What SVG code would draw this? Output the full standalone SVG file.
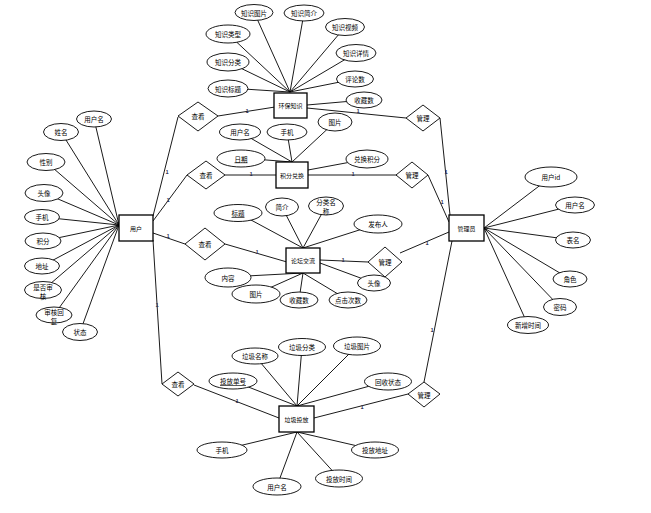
<svg xmlns="http://www.w3.org/2000/svg" width="651" height="513" viewBox="0 0 651 513">
<style>
text{font-family:"Noto Sans CJK SC","Noto Sans",sans-serif;font-size:6.5px;fill:#000;text-anchor:middle;dominant-baseline:central}
.ent rect{fill:#fff;stroke:#000;stroke-width:1.3}
.ent text{font-size:6px}
.att ellipse{fill:#fff;stroke:#000;stroke-width:0.9}
.rel polygon{fill:#fff;stroke:#000;stroke-width:0.9}
#connectors line{stroke:#000;stroke-width:0.9}
.card{font-size:5.5px;font-weight:bold;fill:#335}
.u{text-decoration:underline}
</style>
<rect width="651" height="513" fill="#fff"/>
<g id="connectors">
<!-- user attributes -->
<line x1="94" y1="119" x2="119" y2="225"/>
<line x1="61" y1="132" x2="119" y2="225"/>
<line x1="46" y1="162" x2="119" y2="225"/>
<line x1="44" y1="193" x2="119" y2="225"/>
<line x1="42" y1="217" x2="119" y2="225"/>
<line x1="43" y1="241" x2="119" y2="225"/>
<line x1="42" y1="266" x2="119" y2="225"/>
<line x1="43" y1="290" x2="119" y2="225"/>
<line x1="54" y1="315" x2="119" y2="225"/>
<line x1="80" y1="332" x2="119" y2="225"/>
<!-- admin attributes -->
<line x1="551" y1="177" x2="484" y2="228"/>
<line x1="575" y1="205" x2="484" y2="228"/>
<line x1="573" y1="240" x2="484" y2="228"/>
<line x1="570" y1="279" x2="484" y2="228"/>
<line x1="560" y1="307" x2="484" y2="228"/>
<line x1="528" y1="325" x2="484" y2="228"/>
<!-- knowledge attributes -->
<line x1="254" y1="12" x2="290" y2="92"/>
<line x1="304" y1="13" x2="290" y2="92"/>
<line x1="345" y1="27" x2="290" y2="92"/>
<line x1="356" y1="53" x2="290" y2="92"/>
<line x1="355" y1="79" x2="290" y2="92"/>
<line x1="228" y1="34" x2="290" y2="92"/>
<line x1="228" y1="62" x2="290" y2="92"/>
<line x1="228" y1="88" x2="290" y2="92"/>
<line x1="364" y1="100" x2="307" y2="105"/>
<!-- points exchange attributes -->
<line x1="240" y1="132" x2="292" y2="162"/>
<line x1="287" y1="132" x2="292" y2="162"/>
<line x1="335" y1="122" x2="292" y2="162"/>
<line x1="241" y1="158" x2="292" y2="162"/>
<line x1="367" y1="159" x2="308" y2="170"/>
<!-- forum attributes -->
<line x1="238" y1="213" x2="303" y2="248"/>
<line x1="282" y1="207" x2="303" y2="248"/>
<line x1="326" y1="206" x2="303" y2="248"/>
<line x1="378" y1="224" x2="303" y2="248"/>
<line x1="228" y1="277" x2="303" y2="273"/>
<line x1="256" y1="294" x2="303" y2="273"/>
<line x1="299" y1="300" x2="303" y2="273"/>
<line x1="348" y1="300" x2="303" y2="273"/>
<line x1="374" y1="283" x2="320" y2="263"/>
<!-- garbage attributes -->
<line x1="255" y1="356" x2="297" y2="406"/>
<line x1="302" y1="347" x2="297" y2="406"/>
<line x1="357" y1="346" x2="297" y2="406"/>
<line x1="233" y1="381" x2="297" y2="406"/>
<line x1="388" y1="381" x2="297" y2="406"/>
<line x1="222" y1="450" x2="297" y2="432"/>
<line x1="277" y1="486" x2="297" y2="432"/>
<line x1="339" y1="478" x2="297" y2="432"/>
<line x1="375" y1="450" x2="297" y2="432"/>
<!-- relationships -->
<line x1="153" y1="216" x2="178" y2="117"/>
<line x1="218" y1="116" x2="275" y2="107"/>
<line x1="307" y1="108" x2="406" y2="118"/>
<line x1="440" y1="118" x2="450" y2="215"/>
<line x1="153" y1="221" x2="187" y2="175"/>
<line x1="225" y1="175" x2="276" y2="175"/>
<line x1="308" y1="175" x2="397" y2="175"/>
<line x1="428" y1="175" x2="449" y2="222"/>
<line x1="153" y1="233" x2="185" y2="244"/>
<line x1="225" y1="244" x2="287" y2="262"/>
<line x1="320" y1="260" x2="368" y2="262"/>
<line x1="400" y1="253" x2="449" y2="232"/>
<line x1="153" y1="240" x2="162" y2="384"/>
<line x1="194" y1="385" x2="279" y2="418"/>
<line x1="314" y1="418" x2="408" y2="394"/>
<line x1="424" y1="382" x2="452" y2="241"/>
</g>
<g class="card">
<text class="card" x="167" y="172">1</text>
<text class="card" x="168" y="200">1</text>
<text class="card" x="168" y="236">1</text>
<text class="card" x="157" y="305">1</text>
<text class="card" x="247" y="111">1</text>
<text class="card" x="358" y="111">1</text>
<text class="card" x="251" y="174">1</text>
<text class="card" x="353" y="174">1</text>
<text class="card" x="257" y="252">1</text>
<text class="card" x="343" y="260">1</text>
<text class="card" x="237" y="401">1</text>
<text class="card" x="362" y="407">1</text>
<text class="card" x="446" y="172">1</text>
<text class="card" x="442" y="202">1</text>
<text class="card" x="427" y="243">1</text>
<text class="card" x="432" y="330">1</text>
</g>
<!-- entities -->
<g id="user" class="ent"><rect x="119" y="215" width="34" height="26"/><text x="136" y="228">用户</text></g>
<g id="admin" class="ent"><rect x="449" y="215" width="35" height="26"/><text x="466.5" y="228">管理员</text></g>
<g id="knowledge" class="ent"><rect x="274" y="93" width="33" height="25"/><text x="290.5" y="105.5">环保知识</text></g>
<g id="exchange" class="ent"><rect x="276" y="162" width="32" height="26"/><text x="292" y="175">积分兑换</text></g>
<g id="forum" class="ent"><rect x="286" y="248" width="34" height="25"/><text x="303" y="260.5">论坛交流</text></g>
<g id="garbage" class="ent"><rect x="279" y="406" width="35" height="26"/><text x="296.5" y="419">垃圾投放</text></g>
<!-- relationships -->
<g id="rel-view-knowledge" class="rel"><polygon points="198,102 218,116 198,131 178,116"/><text x="198" y="116">查看</text></g>
<g id="rel-manage-knowledge" class="rel"><polygon points="423,105 440,118 423,131 406,118"/><text x="423" y="118">管理</text></g>
<g id="rel-view-exchange" class="rel"><polygon points="206,161 225,175 206,189 187,175"/><text x="206" y="175">查看</text></g>
<g id="rel-manage-exchange" class="rel"><polygon points="412,162 428,175 412,188 396,175"/><text x="412" y="175">管理</text></g>
<g id="rel-view-forum" class="rel"><polygon points="205,228 225,244 205,260 185,244"/><text x="205" y="244">查看</text></g>
<g id="rel-manage-forum" class="rel"><polygon points="385,247 402,262 385,277 368,262"/><text x="385" y="262">管理</text></g>
<g id="rel-view-garbage" class="rel"><polygon points="178,372 194,384 178,396 162,384"/><text x="178" y="384">查看</text></g>
<g id="rel-manage-garbage" class="rel"><polygon points="424,382 440,394 424,407 408,394"/><text x="424" y="394.5">管理</text></g>
<!-- user attributes -->
<g id="u-username" class="att"><ellipse cx="94" cy="119" rx="17.5" ry="8"/><text x="94" y="119">用户名</text></g>
<g id="u-name" class="att"><ellipse cx="61" cy="132" rx="17.5" ry="8.5"/><text x="61" y="132">姓名</text></g>
<g id="u-gender" class="att"><ellipse cx="46" cy="162" rx="19" ry="8.5"/><text x="46" y="162">性别</text></g>
<g id="u-avatar" class="att"><ellipse cx="44" cy="193" rx="19" ry="8.5"/><text x="44" y="193">头像</text></g>
<g id="u-phone" class="att"><ellipse cx="42" cy="217" rx="17.5" ry="7.5"/><text x="42" y="217">手机</text></g>
<g id="u-points" class="att"><ellipse cx="43" cy="241" rx="18" ry="8"/><text x="43" y="241">积分</text></g>
<g id="u-addr" class="att"><ellipse cx="42" cy="266" rx="17.5" ry="8"/><text x="42" y="266">地址</text></g>
<g id="u-audit" class="att"><ellipse cx="43" cy="290" rx="18.5" ry="8.5"/><text x="43" y="286.5">是否审</text><text x="43" y="295.5">核</text></g>
<g id="u-reply" class="att"><ellipse cx="54" cy="315" rx="18" ry="8"/><text x="54" y="311.5">审核回</text><text x="54" y="320.5">复</text></g>
<g id="u-status" class="att"><ellipse cx="80" cy="332" rx="17.5" ry="8.5"/><text x="80" y="332">状态</text></g>
<!-- admin attributes -->
<g id="a-id" class="att"><ellipse cx="551" cy="177" rx="26" ry="10"/><text x="551" y="177">用户id</text></g>
<g id="a-username" class="att"><ellipse cx="575" cy="205" rx="19.5" ry="8"/><text x="575" y="205">用户名</text></g>
<g id="a-table" class="att"><ellipse cx="573" cy="240" rx="17.5" ry="8"/><text x="573" y="240">表名</text></g>
<g id="a-role" class="att"><ellipse cx="570" cy="279" rx="17" ry="8"/><text x="570" y="279">角色</text></g>
<g id="a-pwd" class="att"><ellipse cx="560" cy="307" rx="16.5" ry="8.5"/><text x="560" y="307">密码</text></g>
<g id="a-time" class="att"><ellipse cx="528" cy="325" rx="20.5" ry="8.5"/><text x="528" y="325">新增时间</text></g>
<!-- knowledge attributes -->
<g id="k-img" class="att"><ellipse cx="254" cy="12.5" rx="19" ry="8"/><text x="254" y="12.5">知识图片</text></g>
<g id="k-intro" class="att"><ellipse cx="304" cy="13" rx="20" ry="8"/><text x="304" y="13">知识简介</text></g>
<g id="k-video" class="att"><ellipse cx="345" cy="27" rx="19.5" ry="8.5"/><text x="345" y="27">知识视频</text></g>
<g id="k-detail" class="att"><ellipse cx="356" cy="53" rx="20" ry="8.5"/><text x="356" y="53">知识详情</text></g>
<g id="k-comments" class="att"><ellipse cx="355" cy="79" rx="18.5" ry="8"/><text x="355" y="79">评论数</text></g>
<g id="k-favs" class="att"><ellipse cx="364" cy="100" rx="18" ry="8"/><text x="364" y="100">收藏数</text></g>
<g id="k-type" class="att"><ellipse cx="228" cy="34" rx="22" ry="9"/><text x="228" y="34">知识类型</text></g>
<g id="k-cat" class="att"><ellipse cx="228" cy="62" rx="21" ry="9"/><text x="228" y="62">知识分类</text></g>
<g id="k-title" class="att"><ellipse cx="228" cy="88.5" rx="20" ry="8.5"/><text x="228" y="88.5">知识标题</text></g>
<!-- exchange attributes -->
<g id="e-username" class="att"><ellipse cx="240" cy="132" rx="20.5" ry="8"/><text x="240" y="132">用户名</text></g>
<g id="e-phone" class="att"><ellipse cx="287" cy="132" rx="20" ry="8"/><text x="287" y="132">手机</text></g>
<g id="e-img" class="att"><ellipse cx="335" cy="122" rx="17" ry="9"/><text x="335" y="122">图片</text></g>
<g id="e-date" class="att"><ellipse cx="241" cy="158.5" rx="24" ry="8.5"/><text class="u" x="241" y="158.5">日期</text></g>
<g id="e-points" class="att"><ellipse cx="367" cy="159" rx="21" ry="9"/><text x="367" y="159">兑换积分</text></g>
<!-- forum attributes -->
<g id="f-title" class="att"><ellipse cx="238" cy="213" rx="24" ry="8.5"/><text class="u" x="238" y="213">标题</text></g>
<g id="f-intro" class="att"><ellipse cx="282" cy="207" rx="16.5" ry="9"/><text x="282" y="207">简介</text></g>
<g id="f-cat" class="att"><ellipse cx="326" cy="206" rx="17.5" ry="9"/><text x="326" y="202">分类名</text><text x="326" y="211">称</text></g>
<g id="f-author" class="att"><ellipse cx="378" cy="224" rx="24" ry="9"/><text x="378" y="224">发布人</text></g>
<g id="f-content" class="att"><ellipse cx="228" cy="277.5" rx="23" ry="9.5"/><text x="228" y="277.5">内容</text></g>
<g id="f-img" class="att"><ellipse cx="256" cy="294" rx="24" ry="9"/><text x="256" y="294">图片</text></g>
<g id="f-favs" class="att"><ellipse cx="299" cy="300" rx="19" ry="8"/><text x="299" y="300">收藏数</text></g>
<g id="f-clicks" class="att"><ellipse cx="348" cy="300" rx="19" ry="8"/><text x="348" y="300">点击次数</text></g>
<g id="f-avatar" class="att"><ellipse cx="374" cy="283" rx="16.5" ry="8"/><text x="374" y="283">头像</text></g>
<!-- garbage attributes -->
<g id="g-name" class="att"><ellipse cx="255" cy="356" rx="23" ry="8"/><text x="255" y="356">垃圾名称</text></g>
<g id="g-cat" class="att"><ellipse cx="302" cy="347" rx="23.5" ry="8.5"/><text x="302" y="347">垃圾分类</text></g>
<g id="g-img" class="att"><ellipse cx="357" cy="346" rx="23.5" ry="9"/><text x="357" y="346">垃圾图片</text></g>
<g id="g-no" class="att"><ellipse cx="233" cy="381" rx="24" ry="8"/><text class="u" x="233" y="381">投放单号</text></g>
<g id="g-status" class="att"><ellipse cx="388" cy="381.5" rx="23.5" ry="8.5"/><text x="388" y="381.5">回收状态</text></g>
<g id="g-phone" class="att"><ellipse cx="222" cy="450" rx="25" ry="8"/><text x="222" y="450">手机</text></g>
<g id="g-username" class="att"><ellipse cx="277" cy="486.5" rx="24" ry="8.5"/><text x="277" y="486.5">用户名</text></g>
<g id="g-time" class="att"><ellipse cx="339" cy="478.5" rx="23.5" ry="8.5"/><text x="339" y="478.5">投放时间</text></g>
<g id="g-addr" class="att"><ellipse cx="375" cy="450" rx="23.5" ry="8"/><text x="375" y="450">投放地址</text></g>
</svg>
